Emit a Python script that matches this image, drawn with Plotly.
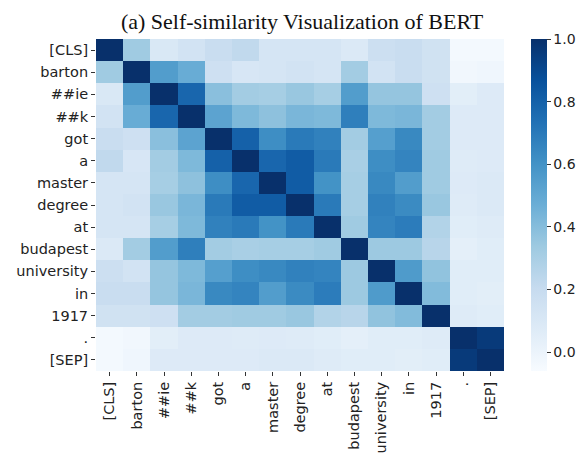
import plotly.graph_objects as go

tokens = ["[CLS]", "barton", "##ie", "##k", "got", "a", "master", "degree", "at",
          "budapest", "university", "in", "1917", ".", "[SEP]"]

sim = [
    [1.00, 0.33, 0.10, 0.14, 0.19, 0.22, 0.12, 0.12, 0.12, 0.09, 0.17, 0.19, 0.15, -0.04, -0.04],
    [0.33, 1.00, 0.55, 0.48, 0.16, 0.11, 0.12, 0.14, 0.12, 0.32, 0.14, 0.19, 0.15, -0.03, -0.02],
    [0.10, 0.55, 1.00, 0.78, 0.39, 0.32, 0.31, 0.35, 0.31, 0.55, 0.36, 0.36, 0.16, 0.05, 0.08],
    [0.14, 0.48, 0.78, 1.00, 0.52, 0.42, 0.38, 0.43, 0.42, 0.68, 0.42, 0.43, 0.32, 0.08, 0.08],
    [0.19, 0.16, 0.39, 0.52, 1.00, 0.80, 0.62, 0.70, 0.67, 0.32, 0.54, 0.64, 0.32, 0.08, 0.08],
    [0.22, 0.11, 0.32, 0.42, 0.80, 1.00, 0.78, 0.82, 0.70, 0.30, 0.62, 0.66, 0.33, 0.07, 0.08],
    [0.12, 0.12, 0.31, 0.38, 0.62, 0.78, 1.00, 0.82, 0.60, 0.31, 0.64, 0.55, 0.33, 0.08, 0.09],
    [0.12, 0.14, 0.35, 0.43, 0.70, 0.82, 0.82, 1.00, 0.70, 0.31, 0.67, 0.63, 0.35, 0.07, 0.09],
    [0.12, 0.12, 0.31, 0.42, 0.67, 0.70, 0.60, 0.70, 1.00, 0.33, 0.66, 0.69, 0.27, 0.06, 0.07],
    [0.09, 0.32, 0.55, 0.68, 0.32, 0.30, 0.31, 0.31, 0.33, 1.00, 0.34, 0.34, 0.25, 0.04, 0.06],
    [0.17, 0.14, 0.36, 0.42, 0.54, 0.62, 0.64, 0.67, 0.66, 0.34, 1.00, 0.56, 0.37, 0.06, 0.06],
    [0.19, 0.19, 0.36, 0.43, 0.64, 0.66, 0.55, 0.63, 0.69, 0.34, 0.56, 1.00, 0.41, 0.06, 0.05],
    [0.15, 0.15, 0.16, 0.32, 0.32, 0.33, 0.33, 0.35, 0.27, 0.25, 0.37, 0.41, 1.00, 0.07, 0.06],
    [-0.04, -0.03, 0.05, 0.08, 0.08, 0.07, 0.08, 0.07, 0.06, 0.04, 0.06, 0.06, 0.07, 1.00, 0.96],
    [-0.04, -0.02, 0.08, 0.08, 0.08, 0.08, 0.09, 0.09, 0.07, 0.06, 0.06, 0.05, 0.06, 0.96, 1.00],
]

cbar_ticks = [0.0, 0.2, 0.4, 0.6, 0.8, 1.0]
cbar_ticktext = ["0.0", "0.2", "0.4", "0.6", "0.8", "1.0"]

blues = ["#f7fbff", "#deebf7", "#c6dbef", "#9ecae1", "#6baed6",
         "#4292c6", "#2171b5", "#08519c", "#08306b"]
colorscale = [[i / (len(blues) - 1), c] for i, c in enumerate(blues)]

fig = go.Figure(go.Heatmap(
    z=sim, x=tokens, y=tokens,
    colorscale=colorscale, zmin=-0.06, zmax=1.0,
    colorbar=dict(
        x=1.066, xanchor="left", xpad=0, y=0.5, yanchor="middle", ypad=0,
        len=1, lenmode="fraction", thickness=16, outlinewidth=0,
        tickvals=cbar_ticks, ticktext=cbar_ticktext,
        ticks="outside", ticklen=4, tickcolor="#333",
        tickfont=dict(family="DejaVu Sans", size=14, color="#222"),
    ),
    hoverongaps=False,
))

fig.update_layout(
    width=579, height=453,
    margin=dict(l=88, r=83, t=31, b=90, autoexpand=False),
    paper_bgcolor="white", plot_bgcolor="white",
    title=dict(text="(a) Self-similarity Visualization of BERT",
               font=dict(family="Times New Roman, Liberation Serif, DejaVu Serif, serif",
                         size=22, color="#111"),
               x=0.505, xanchor="center", xref="paper",
               y=1, yref="container", yanchor="top", pad=dict(t=6, b=0)),
    xaxis=dict(tickangle=-90, ticks="outside", ticklen=4, tickcolor="#333",
               tickfont=dict(family="DejaVu Sans", size=14.5, color="#222"),
               showgrid=False, zeroline=False, showline=False),
    yaxis=dict(autorange="reversed", ticks="outside", ticklen=4, tickcolor="#333",
               tickfont=dict(family="DejaVu Sans", size=14.5, color="#222"),
               showgrid=False, zeroline=False, showline=False),
)

fig.write_html("out.html")
